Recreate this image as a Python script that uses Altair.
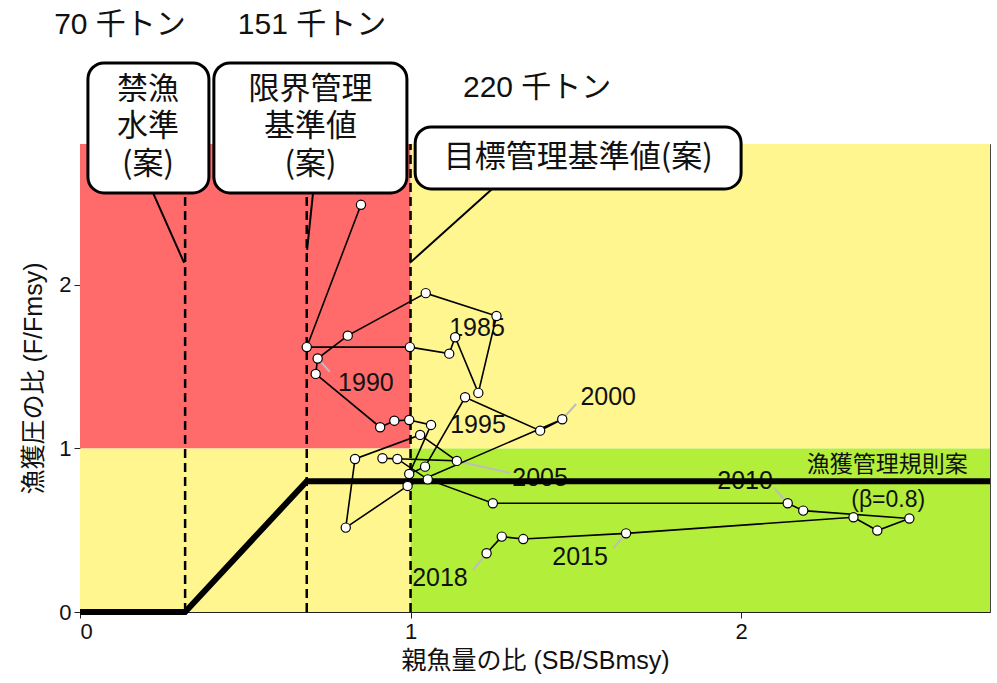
import altair as alt
import pandas as pd

XMAX = 2.753
YMAX = 2.862
FONT = "Liberation Sans, Noto Sans CJK JP"
JFONT = "Noto Sans CJK JP"

# --- trajectory data (SB/SBmsy, F/Fmsy) ---
years = list(range(1981, 2019))
sb_ratio = [0.850, 0.686, 0.998, 1.117, 1.135, 1.205, 1.260, 1.046, 0.810, 0.719,
            0.713, 0.908, 0.951, 0.996, 1.062, 0.996, 1.044, 1.165, 1.392, 1.459,
            0.991, 0.804, 0.832, 1.029, 1.140, 0.915, 0.960, 1.052, 1.249, 2.141,
            2.188, 2.509, 2.412, 2.340, 1.652, 1.341, 1.276, 1.230]
f_ratio = [2.49, 1.62, 1.62, 1.58, 1.68, 1.34, 1.81, 1.95, 1.69, 1.55,
           1.456, 1.13, 1.17, 1.174, 1.144, 0.844, 0.889, 1.313, 1.109, 1.179,
           0.771, 0.516, 0.936, 1.083, 0.924, 0.940, 0.936, 0.811, 0.665, 0.665,
           0.620, 0.572, 0.498, 0.579, 0.481, 0.446, 0.461, 0.359]

# --- year labels ---
label_years = ["1985", "1990", "1995", "2000", "2005", "2010", "2015", "2018"]
label_x = [1.201, 0.865, 1.204, 1.598, 1.392, 2.012, 1.513, 1.089]
label_y = [1.737, 1.401, 1.144, 1.315, 0.820, 0.801, 0.336, 0.208]

# grey leader segments (point -> label)
leader_pt_x = [0.719, 1.459, 1.140, 2.141, 1.652, 1.230]
leader_pt_y = [1.550, 1.179, 0.924, 0.665, 0.481, 0.359]
leader_end_x = [0.756, 1.501, 1.301, 2.100, 1.613, 1.189]
leader_end_y = [1.468, 1.272, 0.850, 0.758, 0.391, 0.257]

# --- reference points ---
ref_x = [0.318, 0.686, 1.0]
ref_text = ["70 千トン", "151 千トン", "220 千トン"]
ref_text_x = [0.121, 0.702, 1.383]
ref_text_y = [3.59, 3.59, 3.205]

# --- harvest control rule ---
hcr_x = [0.0, 0.318, 0.686, XMAX]
hcr_y = [0.0, 0.0, 0.8, 0.8]

# --- background zones ---
zone_name = ["red", "yellow_l", "yellow_r", "green"]
zone_x1 = [0, 0, 1, 1]
zone_x2 = [1, 1, XMAX, XMAX]
zone_y1 = [1, 0, 1, 0]
zone_y2 = [YMAX, 1, YMAX, 1]
zone_color = ["#FF6A6A", "#FFF68F", "#FFF68F", "#B3EE3A"]

# --- annotation boxes ---
box_x1 = [0.024, 0.405, 1.014]
box_x2 = [0.390, 0.989, 2.000]
box_y1 = [2.563, 2.563, 2.587]
box_y2 = [3.358, 3.358, 2.966]
# text inside the boxes (y = centre of first line)
box_text = ["禁漁\n水準\n(案)", "限界管理\n基準値\n(案)", "目標管理基準値(案)"]
box_tx = [0.206, 0.697, 1.507]
box_ty = [3.193, 3.193, 2.777]
# black leaders from boxes to reference lines
bl_x1 = [0.221, 0.705, 1.250]
bl_y1 = [2.563, 2.563, 2.593]
bl_x2 = [0.315, 0.687, 0.998]
bl_y2 = [2.135, 2.214, 2.135]

hcr_label = ["漁獲管理規則案", "(β=0.8)"]
hcr_label_x = [2.442, 2.445]
hcr_label_y = [0.899, 0.685]

xscale = alt.Scale(domain=[0, XMAX], nice=False, zero=False)
yscale = alt.Scale(domain=[0, YMAX], nice=False, zero=False)
xaxis = alt.Axis(values=[0, 1, 2], format="d", title="親魚量の比 (SB/SBmsy)", grid=False,
                 labelFontSize=22, titleFontSize=25, labelFont=FONT, titleFont=FONT,
                 titleFontWeight="normal", labelColor="#111", titleColor="#111",
                 domainColor="#222", tickColor="#222", tickSize=6, labelPadding=3,
                 titlePadding=6)
yaxis = alt.Axis(values=[0, 1, 2], format="d", title="漁獲圧の比 (F/Fmsy)", grid=False,
                 labelFontSize=22, titleFontSize=25, labelFont=FONT, titleFont=FONT,
                 titleFontWeight="normal", labelColor="#111", titleColor="#111",
                 domainColor="#222", tickColor="#222", tickSize=6, labelPadding=3,
                 titlePadding=12)


def X(f):
    return alt.X(f, type="quantitative", scale=xscale, axis=xaxis)


def Y(f):
    return alt.Y(f, type="quantitative", scale=yscale, axis=yaxis)


zones = pd.DataFrame(dict(zone=zone_name, x1=zone_x1, x2=zone_x2, y1=zone_y1, y2=zone_y2))
bg = alt.Chart(zones).mark_rect(strokeWidth=0).encode(
    x=X("x1"), x2=alt.X2("x2"), y=Y("y1"), y2=alt.Y2("y2"),
    color=alt.Color("zone:N", scale=alt.Scale(domain=zone_name, range=zone_color), legend=None),
)

refs = pd.DataFrame(dict(x=ref_x, y0=[0] * 3, y1=[YMAX] * 3))
ref_lines = alt.Chart(refs).mark_rule(color="black", strokeWidth=2.5, strokeDash=[9, 5]).encode(
    x=X("x"), y=Y("y0"), y2=alt.Y2("y1"))

reftxt = pd.DataFrame(dict(t=ref_text, x=ref_text_x, y=ref_text_y))
ref_labels = alt.Chart(reftxt).mark_text(fontSize=30, font=FONT, color="#111").encode(
    x=X("x"), y=Y("y"), text="t:N")

leaders = pd.DataFrame(dict(x=leader_pt_x, y=leader_pt_y, x2=leader_end_x, y2=leader_end_y))
leader_lines = alt.Chart(leaders).mark_rule(color="#BDBDBD", strokeWidth=2).encode(
    x=X("x"), y=Y("y"), x2=alt.X2("x2"), y2=alt.Y2("y2"))

labs = pd.DataFrame(dict(t=label_years, x=label_x, y=label_y))
year_labels = alt.Chart(labs).mark_text(fontSize=25, font=FONT, color="#111").encode(
    x=X("x"), y=Y("y"), text="t:N")

hcr = pd.DataFrame(dict(x=hcr_x, y=hcr_y, o=list(range(len(hcr_x)))))
hcr_line = alt.Chart(hcr).mark_line(color="black", strokeWidth=6, strokeJoin="miter").encode(
    x=X("x"), y=Y("y"), order="o:Q")

hl = pd.DataFrame(dict(t=hcr_label, x=hcr_label_x, y=hcr_label_y))
hcr_text = alt.Chart(hl).mark_text(fontSize=23, font=FONT, color="#111").encode(
    x=X("x"), y=Y("y"), text="t:N")

traj = pd.DataFrame(dict(year=years, sb=sb_ratio, f=f_ratio))
traj_line = alt.Chart(traj).mark_line(color="black", strokeWidth=1.6).encode(
    x=X("sb"), y=Y("f"), order="year:Q")
traj_pts = alt.Chart(traj).mark_circle(color="white", stroke="black", strokeWidth=1.2,
                                       size=85, opacity=1).encode(x=X("sb"), y=Y("f"))

bl = pd.DataFrame(dict(x=bl_x1, y=bl_y1, x2=bl_x2, y2=bl_y2))
box_leaders = alt.Chart(bl).mark_rule(color="black", strokeWidth=2).encode(
    x=X("x"), y=Y("y"), x2=alt.X2("x2"), y2=alt.Y2("y2"))

boxes = pd.DataFrame(dict(x1=box_x1, x2=box_x2, y1=box_y1, y2=box_y2))
box_rects = alt.Chart(boxes).mark_rect(fill="white", stroke="black", strokeWidth=3,
                                       cornerRadius=16).encode(
    x=X("x1"), x2=alt.X2("x2"), y=Y("y1"), y2=alt.Y2("y2"))

bt = pd.DataFrame(dict(t=box_text, x=box_tx, y=box_ty))
box_texts = alt.Chart(bt).mark_text(fontSize=31, font=JFONT, color="#111", baseline="middle",
                                    lineBreak="\n", lineHeight=37.5).encode(
    x=X("x"), y=Y("y"), text="t:N")

chart = alt.layer(
    bg, ref_lines, leader_lines, year_labels, hcr_line, hcr_text, traj_line, traj_pts,
    box_leaders, box_rects, box_texts, ref_labels,
).properties(
    width=910, height=468,
    padding={"left": 80, "top": 144, "right": 7, "bottom": 71},
    autosize=alt.AutoSizeParams(type="none"),
    background="white",
).configure_view(stroke="#444444", strokeWidth=1)

chart.save("out.html", embed_options={"renderer": "svg", "actions": False})
